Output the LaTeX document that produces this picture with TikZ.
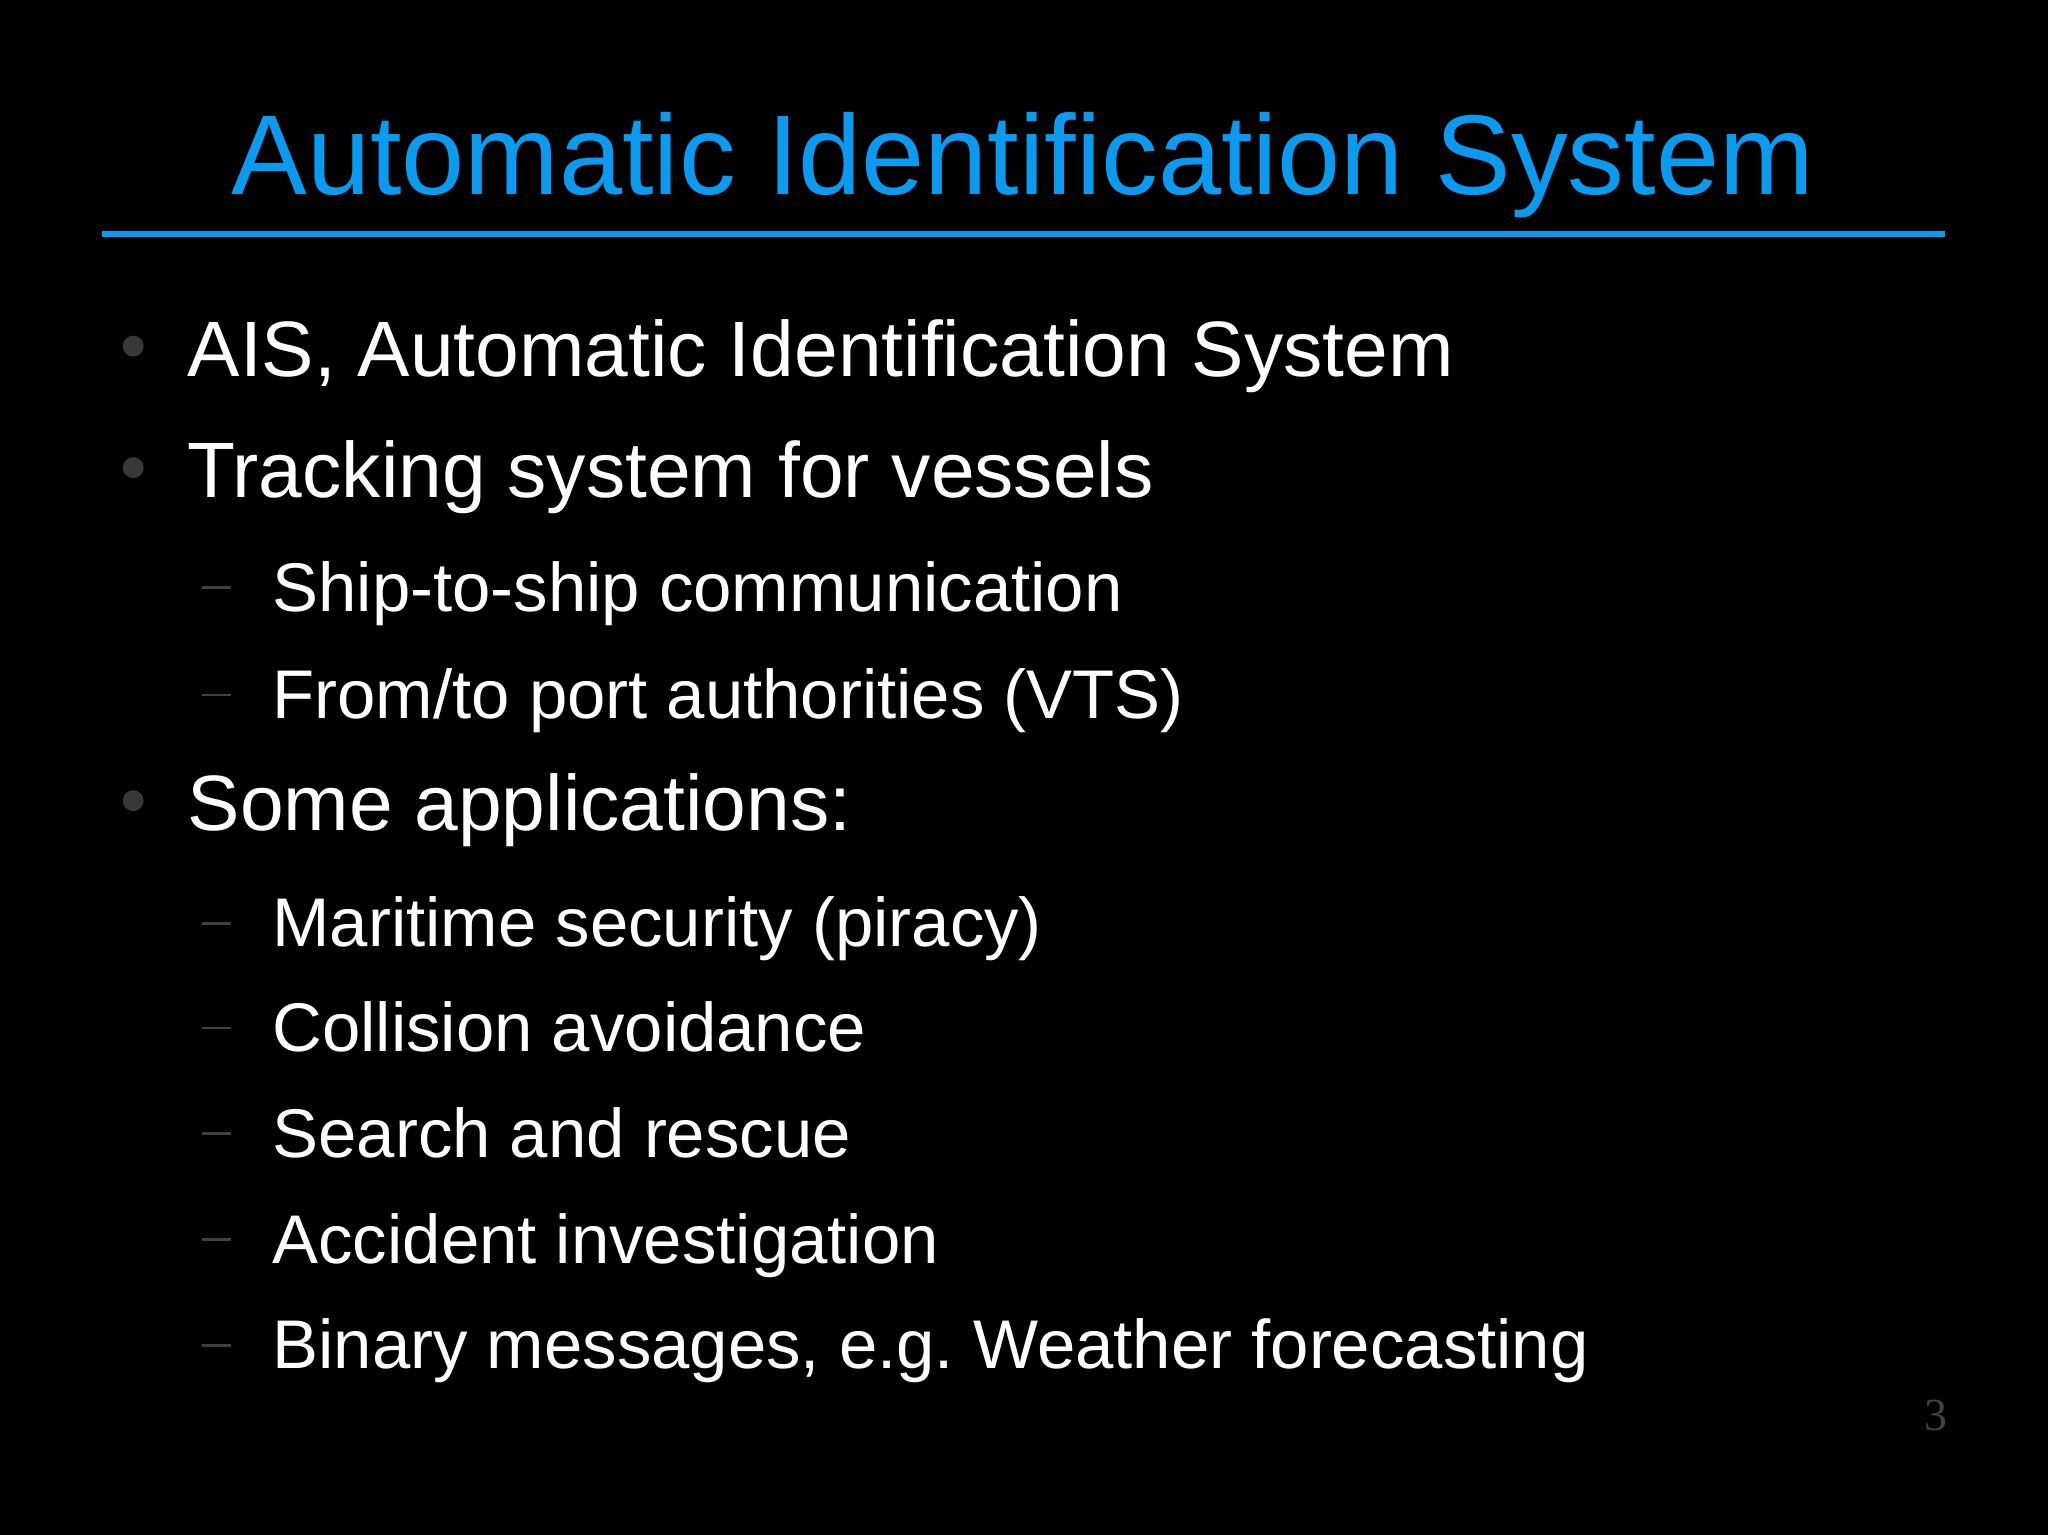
\documentclass[tikz,border=0pt]{standalone}
\usepackage{fontspec}
\setmainfont{Liberation Sans}
\begin{document}
\frenchspacing
\begin{tikzpicture}[x=0.01cm,y=-0.01cm,
  lone/.style={anchor=base west,text=white,font=\fontsize{17.1pt}{20pt}\selectfont,inner sep=0},
  ltwo/.style={anchor=base west,text=white,font=\fontsize{15pt}{18pt}\selectfont,inner sep=0},
  dot/.style={circle,fill=white!22!black,inner sep=0,minimum size=0.16cm},
  dsh/.style={draw=white!25!black,line width=0.02cm}]
\fill[black] (0,0) rectangle (1568,1175);
\useasboundingbox (0,0) rectangle (1568,1175);
\definecolor{tblue}{HTML}{0A9BF0}
\node[anchor=base,text=tblue,font=\fontsize{24.7pt}{28pt}\selectfont,inner sep=0] (title) at (783,149) {Automatic Identification System};
\draw[tblue,line width=0.05cm] (78,179) -- (1489,179);
\foreach \y/\t [count=\i] in {288/{AIS, Automatic Identification System},381/{Tracking system for vessels},636/{Some applications:}}{
  \node[dot] (b\i) at (102,\y-23) {};
  \node[lone] (t\i) at (143,\y) {\t};
}
\foreach \y/\t [count=\i] in {468/{Ship-to-ship communication},550/{From/to port authorities (VTS)},725/{Maritime security (piracy)},805/{Collision avoidance},886/{Search and rescue},967/{Accident investigation},1048/{Binary messages, e.g. Weather forecasting}}{
  \draw[dsh] (155,\y-18) -- (177,\y-18);
  \node[ltwo] (s\i) at (208,\y) {\t};
}
\node[anchor=base,text=white!25!black,font=\fontsize{10pt}{12pt}\selectfont,inner sep=0] (pg) at (1482,1095) {\setmainfont{Liberation Serif}\rmfamily 3};
\end{tikzpicture}
\end{document}
